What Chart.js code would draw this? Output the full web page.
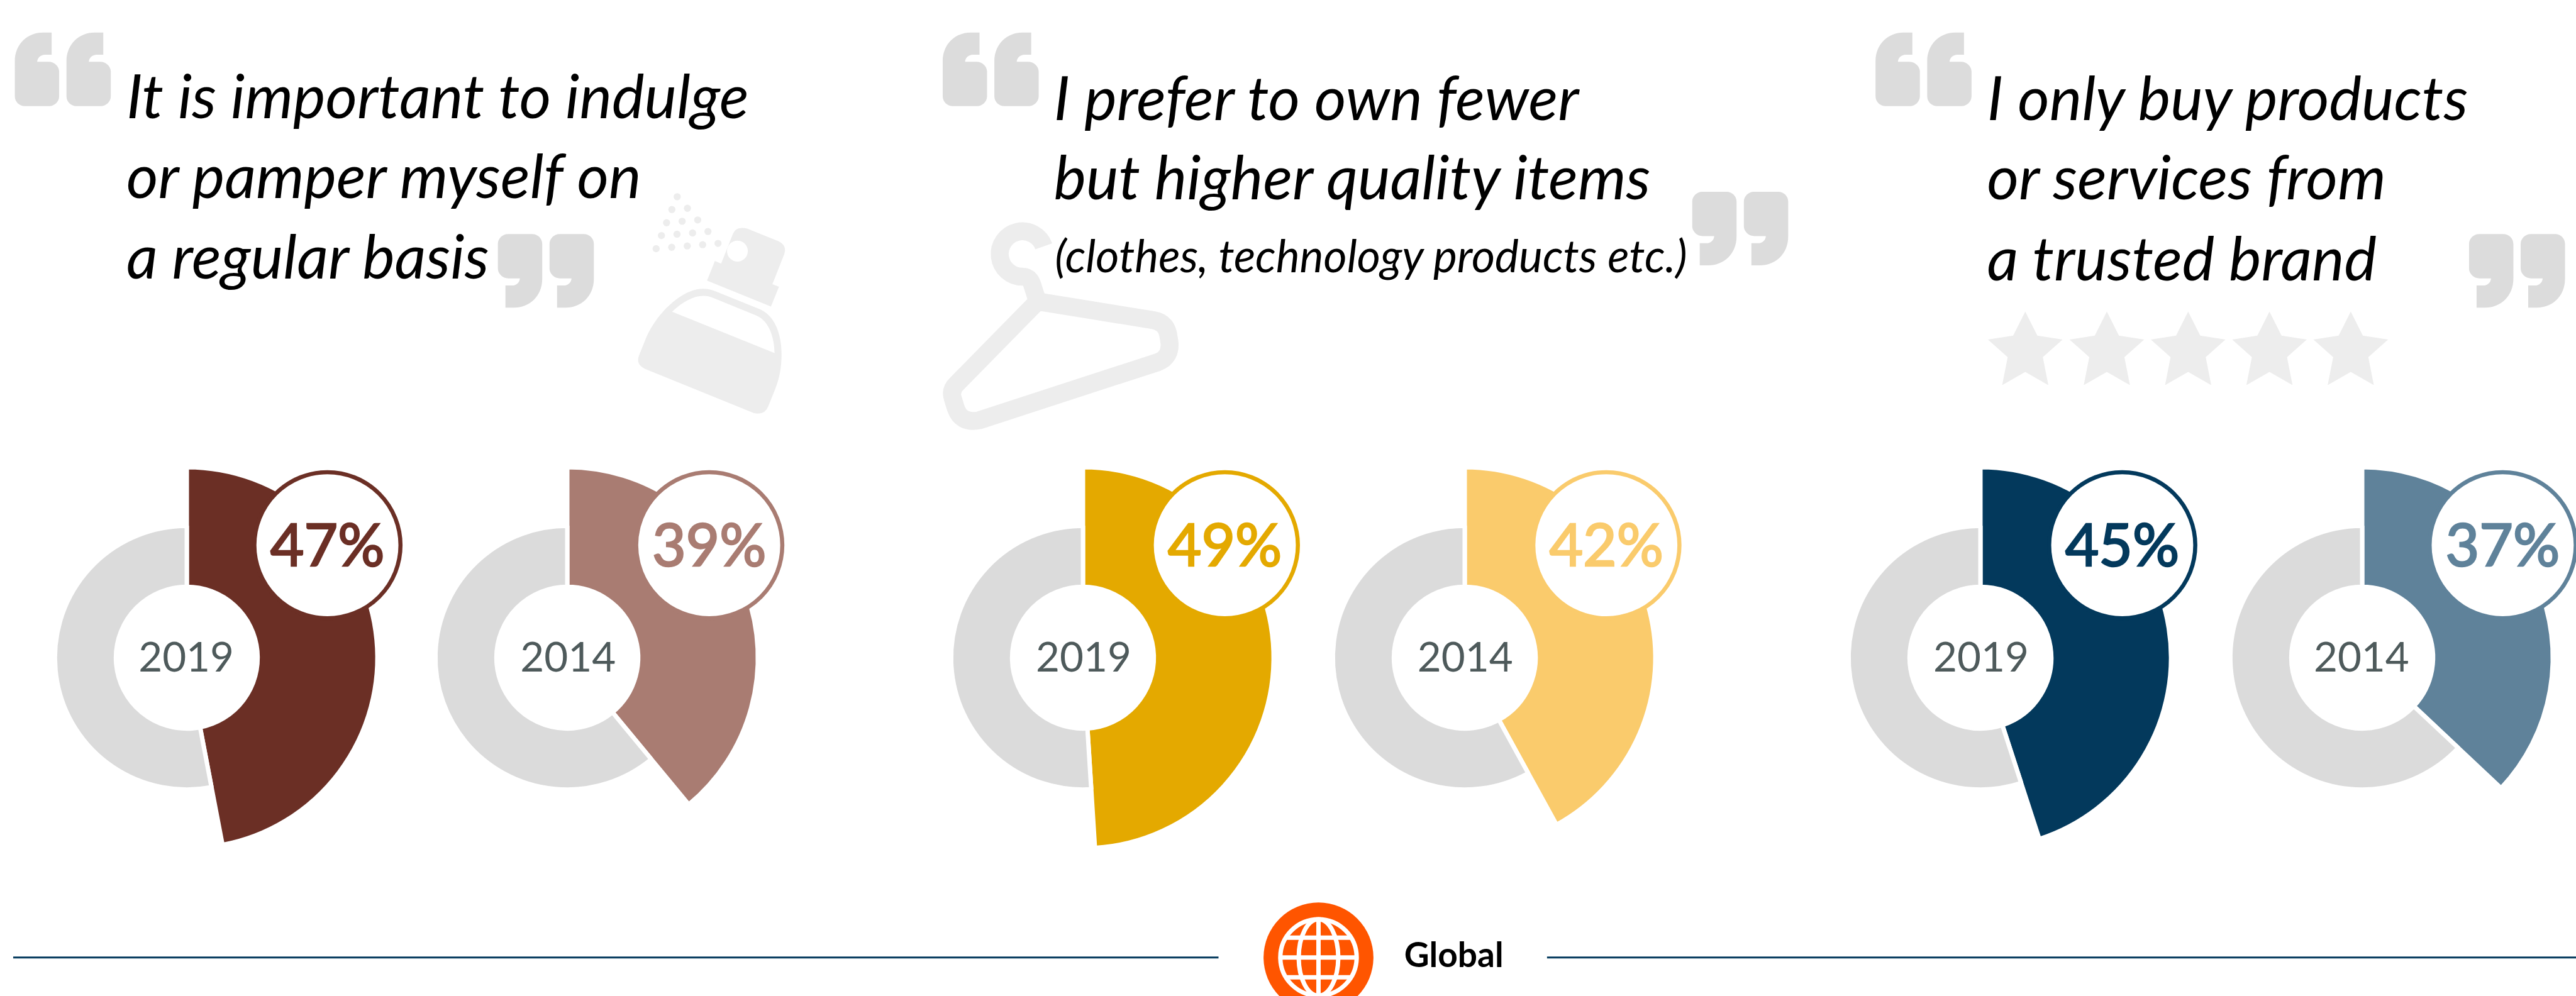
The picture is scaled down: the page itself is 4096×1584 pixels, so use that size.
<!DOCTYPE html>
<html>
<head>
<meta charset="utf-8">
<title>Global consumer attitudes</title>
<script src="https://cdn.jsdelivr.net/npm/chart.js@4"></script>
<style>
    html, body { margin: 0; padding: 0; background: #fff; overflow: hidden; }
    #page { position: relative; width: 4096px; height: 1584px; overflow: hidden; background: #fff; }
    #page canvas { position: absolute; }
    #overlay { position: absolute; left: 0; top: 0; width: 4096px; height: 1584px; font-family: Lato, sans-serif; }
    .quote { font-style: italic; font-size: 111.5px; fill: #000; }
    .quote-small { font-style: italic; font-size: 82px; fill: #000; }
    .year { font-size: 75px; fill: #4e5a5b; text-anchor: middle; }
    .share { font-size: 106px; stroke-width: 3; text-anchor: middle; }
    .region { font-size: 63px; font-weight: 700; fill: #000; }
</style>
</head>
<body>
<div id="page">
<svg id="overlay" viewBox="0 0 4689 1813" xmlns="http://www.w3.org/2000/svg">
    <defs>
        <path id="quote-mark" fill="#dcdcdc" d="M67,0 L67,40.3 L55,40.3 C47,40.3 41,46 40.7,53.3 L61.7,53.3 C72,53.3 80.7,62 80.7,71 L80.7,116 C80.7,126 72,134 62.7,134 L18.3,134 C8,134 0,126 0,116 L0,52.7 C0,20 24,0 51,0 Z"/>
        <g id="quote-open">
            <use href="#quote-mark"/>
            <use href="#quote-mark" x="94"/>
        </g>
        <polygon id="star" fill="#ededed" points="0,0 22,44 68,51 32,83 42,134 0,110 -42,134 -32,83 -68,51 -22,44"/>
    </defs>

    <!-- quotation marks -->
    <use href="#quote-open" x="27" y="59"/>
    <use href="#quote-open" transform="translate(1081,560) rotate(180)"/>
    <use href="#quote-open" x="1716" y="59"/>
    <use href="#quote-open" transform="translate(3255,483) rotate(180)"/>
    <use href="#quote-open" x="3414" y="59" />
    <use href="#quote-open" transform="translate(4669,560) rotate(180)"/>

    <!-- perfume bottle -->
    <g transform="translate(1140,330) scale(0.3333)" fill="#ededed">
        <circle cx="278" cy="84" r="19.5"/><circle cx="249" cy="154" r="19.5"/><circle cx="334" cy="147" r="19.5"/>
        <circle cx="220" cy="226" r="19.5"/><circle cx="305" cy="218" r="19.5"/><circle cx="390" cy="211" r="19.5"/>
        <circle cx="192" cy="296" r="19.5"/><circle cx="277" cy="289" r="19.5"/><circle cx="362" cy="282" r="19.5"/>
        <circle cx="446" cy="274" r="19.5"/><circle cx="163" cy="368" r="19.5"/><circle cx="248" cy="360" r="19.5"/>
        <circle cx="333" cy="353" r="19.5"/><circle cx="417" cy="346" r="19.5"/><circle cx="501" cy="339" r="19.5"/>
        <path d="M583,285 Q600,245 660,258 L830,327 Q880,350 862,400 L798,562 L834,576 L790,684 L441,542 L484,435 L518,449 Z"/>
        <circle cx="607" cy="381" r="57" fill="#fff"/>
        <path d="M485,600 L725,697 C820,735 848,850 848,945 C848,1020 835,1080 815,1130 L775,1230 Q755,1280 695,1265 L103,1025 Q50,1000 70,950 L110,850 C170,715 310,585 420,587 Q455,587 485,600 Z"/>
        <path fill="#fff" d="M250,712 C310,655 370,625 420,625 Q450,625 470,635 L710,733 C785,765 808,860 810,938 Z"/>
    </g>

    <!-- coat hanger -->
    <g transform="translate(1700,380) scale(0.3333)" fill="none" stroke="#ededed" stroke-width="98">
        <path d="M600,205 A124,124 0 1 0 483,371 C530,371 535,410 545,440 L566,506"/>
        <path stroke-linejoin="round" d="M566,506 L1197,608 Q1262,618 1278,680 L1285,720 Q1298,810 1222,838 L248,1155 Q150,1175 120,1090 L103,1035 Q88,990 125,955 Z"/>
    </g>

    <!-- rating stars -->
    <use href="#star" x="3686.5" y="567"/>
    <use href="#star" x="3835" y="567"/>
    <use href="#star" x="3983" y="567"/>
    <use href="#star" x="4131" y="567"/>
    <use href="#star" x="4279" y="567"/>

    <!-- statements -->
    <text class="quote" x="230" y="215">It is important to indulge</text>
    <text class="quote" x="230" y="361">or pamper myself on</text>
    <text class="quote" x="230" y="507">a regular basis</text>
    <text class="quote" x="1918" y="218">I prefer to own fewer</text>
    <text class="quote" x="1918" y="363">but higher quality items</text>
    <text class="quote-small" x="1920" y="495">(clothes, technology products etc.)</text>
    <text class="quote" x="3617" y="218">I only buy products</text>
    <text class="quote" x="3617" y="363">or services from</text>
    <text class="quote" x="3617" y="510">a trusted brand</text>

    <!-- region footer -->
    <line x1="24" y1="1743" x2="2218" y2="1743" stroke="#03395c" stroke-width="3.5"/>
    <line x1="2816" y1="1743" x2="4689" y2="1743" stroke="#03395c" stroke-width="3.5"/>
    <circle cx="2400" cy="1743" r="100" fill="#ff5500"/>
    <g fill="none" stroke="#fff" stroke-width="8">
        <circle cx="2400" cy="1743" r="69.5"/>
        <ellipse cx="2400" cy="1743" rx="36" ry="69.5"/>
        <path d="M2400,1673.5 V1812.5 M2330.5,1743 H2469.5 M2341,1707 H2459 M2341,1779 H2459"/>
    </g>
    <text class="region" x="2556" y="1760">Global</text>
</svg>
</div>
<script>
// Shares of respondents agreeing, per survey year
const years = ['2019', '2014'];
const indulgeAgree = [47, 39];
const indulgeRest = [53, 61];
const qualityAgree = [49, 42];
const qualityRest = [51, 58];
const trustedAgree = [45, 37];
const trustedRest = [55, 63];

const page = document.getElementById('page');
const overlay = document.getElementById('overlay');
const SVG_NS = 'http://www.w3.org/2000/svg';

// The layout is worked out in 4689x1813 units, the page is 4096 wide
const SCALE = 4096 / 4689;
const CENTER_Y = 1197;
const GAP = 8;                 // white seam between the two arcs
const HOLE_R = 133;
const REST_R = 236;
const AGREE_R = 343;
const BADGE_Y = 992.5;
const BADGE_R = 133;

const GREY = '#dbdbdb';

// Draws the highlighted arc further out than the grey remainder
const longArcPlugin = {
    id: 'longArc',
    afterDatasetUpdate(chart) {
        chart.getDatasetMeta(0).data[0].outerRadius = (AGREE_R + GAP / 2) * SCALE;
    }
};

function addSvg(tag, attrs, text) {
    const el = document.createElementNS(SVG_NS, tag);
    Object.keys(attrs).forEach(key => el.setAttribute(key, attrs[key]));
    if (text) el.textContent = text;
    overlay.appendChild(el);
    return el;
}

function drawDonut(centerX, badgeX, year, agree, rest, color) {
    const half = Math.ceil((AGREE_R + GAP) * SCALE) + 4;
    const canvas = document.createElement('canvas');
    canvas.width = half * 2;
    canvas.height = half * 2;
    canvas.style.left = Math.round(centerX * SCALE - half) + 'px';
    canvas.style.top = Math.round(CENTER_Y * SCALE - half) + 'px';
    page.insertBefore(canvas, overlay);

    const ringOuter = (REST_R + GAP / 2) * SCALE;
    const ringInner = (HOLE_R - GAP / 2) * SCALE;

    new Chart(canvas.getContext('2d'), {
        type: 'doughnut',
        data: {
            labels: ['Agree', 'Other'],
            datasets: [{
                data: [agree, rest],
                backgroundColor: [color, GREY],
                borderColor: '#fff',
                borderWidth: GAP * SCALE,
                borderAlign: 'center'
            }]
        },
        options: {
            responsive: false,
            animation: false,
            events: [],
            radius: ringOuter,
            cutout: (ringInner / ringOuter * 100) + '%',
            plugins: { legend: { display: false }, tooltip: { enabled: false } }
        },
        plugins: [longArcPlugin]
    });

    // year inside the hole, value in the round badge
    addSvg('text', { class: 'year', x: badgeX - 257, y: CENTER_Y + 25 }, year);
    addSvg('circle', { cx: badgeX, cy: BADGE_Y, r: BADGE_R, fill: '#fff', stroke: color, 'stroke-width': 7.5 });
    addSvg('text', { class: 'share', x: badgeX, y: BADGE_Y + 38, fill: color, stroke: color }, agree + '%');
}

drawDonut(340.5, 596, years[0], indulgeAgree[0], indulgeRest[0], '#6b2f25');
drawDonut(1033, 1291, years[1], indulgeAgree[1], indulgeRest[1], '#a97c72');
drawDonut(1971, 2229.5, years[0], qualityAgree[0], qualityRest[0], '#e4a900');
drawDonut(2666, 2924, years[1], qualityAgree[1], qualityRest[1], '#facb6c');
drawDonut(3605, 3863, years[0], trustedAgree[0], trustedRest[0], '#03395c');
drawDonut(4300, 4555.5, years[1], trustedAgree[1], trustedRest[1], '#5f829a');
</script>
</body>
</html>
